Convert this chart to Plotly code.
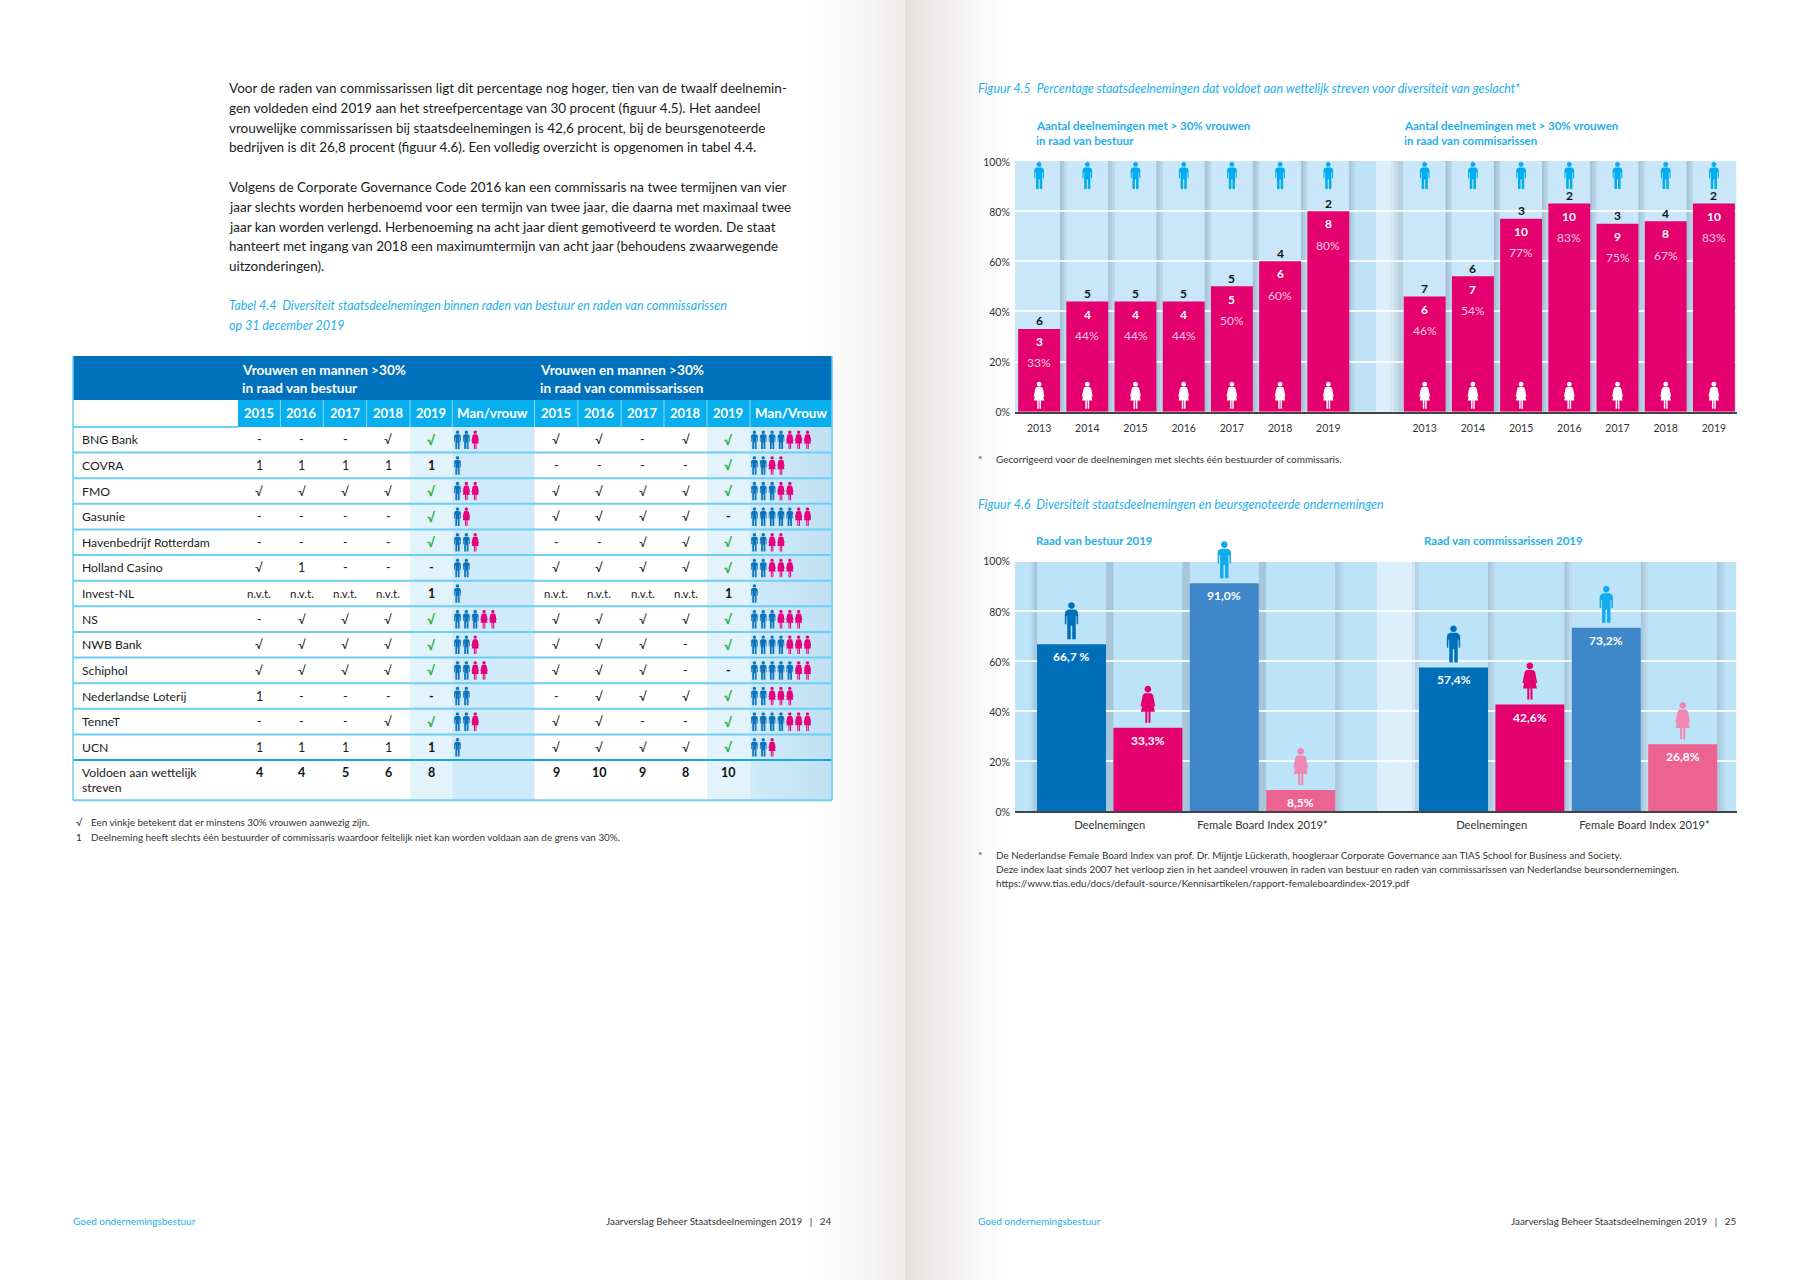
import math
import plotly.graph_objects as go

W, H = 1810, 1280
FONT = "Lato"

# ---------- data ----------
years45 = ["2013", "2014", "2015", "2016", "2017", "2018", "2019"]
pos45 = [0, 1, 2, 3, 4, 5, 6, 8, 9, 10, 11, 12, 13, 14]
tick45 = years45 + years45
bestuur_hoogte = [33, 44, 44, 44, 50, 60, 80]
commissie_hoogte = [46, 54, 77, 83, 75, 76, 83]
pct45 = ["33%", "44%", "44%", "44%", "50%", "60%", "80%", "46%", "54%", "77%", "83%", "75%", "67%", "83%"]
vrouwen45 = [3, 4, 4, 4, 5, 6, 8, 6, 7, 10, 10, 9, 8, 10]
mannen45 = [6, 5, 5, 5, 5, 4, 2, 7, 6, 3, 2, 3, 4, 2]

pos46 = [0, 1, 2, 3, 5, 6, 7, 8]
waarden46 = [66.7, 33.3, 91.0, 8.5, 57.4, 42.6, 73.2, 26.8]
labels46 = ["66,7 %", "33,3%", "91,0%", "8,5%", "57,4%", "42,6%", "73,2%", "26,8%"]
kleuren46 = ["#006fba", "#e5006f", "#3e87c9", "#ec6391"] * 2
icoon_kleuren46 = ["#006fba", "#e5006f", "#12aced", "#f086b4"] * 2
icoon_soort46 = ["m", "v", "m", "v"] * 2
tickpos46 = [0.5, 2.5, 5.5, 7.5]
ticktext46 = ["Deelnemingen", "Female Board Index 2019*", "Deelnemingen", "Female Board Index 2019*"]
yticks = [0, 20, 40, 60, 80, 100]
yticktext = ["0%", "20%", "40%", "60%", "80%", "100%"]

tabel_jaren = ["2015", "2016", "2017", "2018", "2019"]
tabel_namen = ["BNG Bank", "COVRA", "FMO", "Gasunie", "Havenbedrijf Rotterdam", "Holland Casino", "Invest-NL",
               "NS", "NWB Bank", "Schiphol", "Nederlandse Loterij", "TenneT", "UCN"]
N = "n.v.t."
tabel_bestuur = [
    ["-", "-", "-", "√", "√"], ["1", "1", "1", "1", "1"], ["√", "√", "√", "√", "√"], ["-", "-", "-", "-", "√"],
    ["-", "-", "-", "-", "√"], ["√", "1", "-", "-", "-"], [N, N, N, N, "1"], ["-", "√", "√", "√", "√"],
    ["√", "√", "√", "√", "√"], ["√", "√", "√", "√", "√"], ["1", "-", "-", "-", "-"], ["-", "-", "-", "√", "√"],
    ["1", "1", "1", "1", "1"]]
tabel_commissie = [
    ["√", "√", "-", "√", "√"], ["-", "-", "-", "-", "√"], ["√", "√", "√", "√", "√"], ["√", "√", "√", "√", "-"],
    ["-", "-", "√", "√", "√"], ["√", "√", "√", "√", "√"], [N, N, N, N, "1"], ["√", "√", "√", "√", "√"],
    ["√", "√", "√", "-", "√"], ["√", "√", "√", "-", "-"], ["-", "√", "√", "√", "√"], ["√", "√", "-", "-", "√"],
    ["√", "√", "√", "√", "√"]]
iconen_bestuur = [(2, 1), (1, 0), (1, 2), (1, 1), (2, 1), (2, 0), (1, 0), (3, 2), (2, 1), (2, 2), (2, 0), (2, 1), (1, 0)]
iconen_commissie = [(4, 3), (2, 2), (3, 2), (5, 2), (2, 2), (2, 3), (1, 0), (3, 3), (4, 3), (5, 2), (2, 3), (4, 3), (2, 1)]
totaal_bestuur = ["4", "4", "5", "6", "8"]
totaal_commissie = ["9", "10", "9", "8", "10"]

alinea_1 = ["Voor de raden van commissarissen ligt dit percentage nog hoger, tien van de twaalf deelnemin-",
            "gen voldeden eind 2019 aan het streefpercentage van 30 procent (figuur 4.5). Het aandeel",
            "vrouwelijke commissarissen bij staatsdeelnemingen is 42,6 procent, bij de beursgenoteerde",
            "bedrijven is dit 26,8 procent (figuur 4.6). Een volledig overzicht is opgenomen in tabel 4.4."]
alinea_2 = ["Volgens de Corporate Governance Code 2016 kan een commissaris na twee termijnen van vier",
            "jaar slechts worden herbenoemd voor een termijn van twee jaar, die daarna met maximaal twee",
            "jaar kan worden verlengd. Herbenoeming na acht jaar dient gemotiveerd te worden. De staat",
            "hanteert met ingang van 2018 een maximumtermijn van acht jaar (behoudens zwaarwegende",
            "uitzonderingen)."]
voetnoot_46 = ["De Nederlandse Female Board Index van prof. Dr. Mijntje Lückerath, hoogleraar Corporate Governance aan TIAS School for Business and Society.",
               "Deze index laat sinds 2007 het verloop zien in het aandeel vrouwen in raden van bestuur en raden van commissarissen van Nederlandse beursondernemingen.",
               "https://www.tias.edu/docs/default-source/Kennisartikelen/rapport-femaleboardindex-2019.pdf"]

# ---------- colours ----------
BLUE_T = "#1fb0ea"
DARK = "#0071bc"
CYAN = "#08afee"
LINE = "#6fcdf4"
TXT = "#1c1c1c"

shapes, ann = [], []


def fx(x):
    return x / W


def fy(y):
    return 1 - y / H


def T(x, y, text, size=12.5, color=TXT, bold=False, italic=False, anchor="left"):
    ann.append(dict(x=fx(x), y=fy(y), xref="paper", yref="paper", text=text, showarrow=False, xanchor=anchor,
                    yanchor="middle", borderpad=0, borderwidth=0,
                    font=dict(family=FONT, size=size, color=color, weight=700 if bold else 400,
                              style="italic" if italic else "normal")))


def R(x0, y0, x1, y1, color, layer="below"):
    shapes.append(dict(type="rect", xref="paper", yref="paper", x0=fx(x0), x1=fx(x1), y0=fy(y1), y1=fy(y0),
                       fillcolor=color, line=dict(width=0), layer=layer))


def L(x0, y0, x1, y1, color, w=1.5):
    shapes.append(dict(type="line", xref="paper", yref="paper", x0=fx(x0), x1=fx(x1), y0=fy(y0), y1=fy(y1),
                       line=dict(color=color, width=w), layer="below"))


def mix(a, b, t):
    return "#%02x%02x%02x" % tuple(round(a[i] + (b[i] - a[i]) * t) for i in range(3))


HEAD = [(0.09 * math.sin(k * math.pi / 8), 0.09 + 0.09 * math.cos(k * math.pi / 8)) for k in range(16)]
MAN = [(-0.09, 0.2), (0.09, 0.2), (0.16, 0.24), (0.18, 0.32), (0.18, 0.6), (0.14, 0.6), (0.135, 0.38), (0.115, 0.38),
       (0.115, 1), (0.02, 1), (0.02, 0.64), (-0.02, 0.64), (-0.02, 1), (-0.115, 1), (-0.115, 0.38), (-0.135, 0.38),
       (-0.14, 0.6), (-0.18, 0.6), (-0.18, 0.32), (-0.16, 0.24)]
VROUW = [(-0.09, 0.2), (0.09, 0.2), (0.14, 0.25), (0.2, 0.55), (0.16, 0.56), (0.12, 0.4), (0.19, 0.7), (0.07, 0.7),
         (0.07, 1), (0.015, 1), (0.015, 0.7), (-0.015, 0.7), (-0.015, 1), (-0.07, 1), (-0.07, 0.7), (-0.19, 0.7),
         (-0.12, 0.4), (-0.16, 0.56), (-0.2, 0.55), (-0.14, 0.25)]


def icon_path(kind, h, top):
    """Path in pixels relative to the anchor; `top` = pixels above the anchor of the head top."""
    def poly(pts):
        return "M" + " L".join(f"{px * h:.2f},{top - py * h:.2f}" for px, py in pts) + " Z"
    return poly(HEAD) + " " + poly(MAN if kind == "m" else VROUW)


def icon(kind, xanchor, yanchor, h, top, color, xref="paper", yref="paper"):
    shapes.append(dict(type="path", xref=xref, yref=yref, xsizemode="pixel", ysizemode="pixel",
                       xanchor=xanchor, yanchor=yanchor, path=icon_path(kind, h, top),
                       fillcolor=color, line=dict(width=0), layer="above"))


# ---------- page shading ----------
wit, rand_l, rand_r = (255, 255, 255), (238, 236, 235), (227, 224, 223)
for x in range(800, 905, 3):
    t = (x - 800) / 105
    R(x, 0, min(x + 4, 905), H, mix(wit, rand_l, t ** 1.3))
for x in range(1002, 902, -3):
    t = (x - 905) / 100
    R(max(x, 905), 0, x + 4, H, mix(rand_r, wit, max(t, 0) ** 0.8))

# ---------- body text left page ----------
for i, s in enumerate(alinea_1):
    T(228.5, 88.3 + i * 19.65, s, size=13.5)
for i, s in enumerate(alinea_2):
    T(228.5, 187.3 + i * 19.67, s, size=13.5)
T(228.5, 306, "Tabel 4.4  Diversiteit staatsdeelnemingen binnen raden van bestuur en raden van commissarissen", 12.45, BLUE_T, italic=True)
T(228.5, 325.7, "op 31 december 2019", 12.45, BLUE_T, italic=True)

# ---------- table ----------
TL, TR = 73, 832
col_edges = [238, 280.4, 323.3, 366.6, 410, 452.3, 534.5, 577.9, 621.2, 664, 707, 750, 832]
col_l = [259, 301.8, 345, 388.3, 431.2]
col_r = [556, 599.3, 642.6, 685.5, 728.4]
ROW0, RH = 427, 25.62
LAST = ROW0 + 13 * RH
BOT = 800.3

R(TL, 356, TR, 400, DARK)
R(238, 400, TR, 427, CYAN)
R(410, 427, 452.3, BOT, "#e3f3fc")
R(707, 427, 750, BOT, "#e3f3fc")
R(452.3, 427, 534.5, BOT, "#cfeafa")
for k in range(20):
    R(750 + k * 4.1, 427, 832, BOT, mix((208, 235, 250), (192, 225, 243), k / 19))
for e in col_edges[1:-1]:
    L(e, 400, e, 427, "#8ad8f7", 1)
for i in range(1, 13):
    L(TL, ROW0 + i * RH, TR, ROW0 + i * RH, LINE, 2)
L(TL, 427, 238, 427, LINE, 2)
L(TL, LAST, TR, LAST, "#1aa7e6", 2)
L(TL, BOT, TR, BOT, LINE, 2)
L(TL, 356, TL, BOT, LINE, 1.5)
L(TR, 356, TR, BOT, LINE, 1.5)

T(242, 370.3, "Vrouwen en mannen >30%", 13.6, "white", bold=True)
T(242, 387.7, "in raad van bestuur", 13.6, "white", bold=True)
T(539.6, 370.3, "Vrouwen en mannen >30%", 13.6, "white", bold=True)
T(539.6, 387.7, "in raad van commissarissen", 13.6, "white", bold=True)
for j, y in enumerate(tabel_jaren):
    T(col_l[j], 413.3, y, 13, "white", bold=True, anchor="center")
    T(col_r[j], 413.3, y, 13, "white", bold=True, anchor="center")
T(492.7, 413.3, "Man/vrouw", 13.3, "white", bold=True, anchor="center")
T(790.6, 413.3, "Man/Vrouw", 13.3, "white", bold=True, anchor="center")


def cel(x, y, v, hoofd):
    if v == "√" and hoofd:
        T(x, y, v, 13, "#2db34a", bold=True, anchor="center")
    elif hoofd:
        T(x, y, v, 12.5, "#111111", bold=True, anchor="center")
    elif v == N:
        T(x, y, v, 11.5, TXT, anchor="center")
    else:
        T(x, y, v, 12.5, TXT, anchor="center")


for i, naam in enumerate(tabel_namen):
    yc = ROW0 + (i + 0.5) * RH
    T(82.4, yc, naam, 12.2)
    for j in range(5):
        cel(col_l[j], yc, tabel_bestuur[i][j], j == 4)
        cel(col_r[j], yc, tabel_commissie[i][j], j == 4)
    for start, (m, v) in ((457.5, iconen_bestuur[i]), (754.4, iconen_commissie[i])):
        for k in range(m + v):
            icon("m" if k < m else "v", fx(start + k * 8.85), fy(yc), 18.5, 9.25,
                 "#0c72b9" if k < m else "#e5007d")

T(82.4, 772.3, "Voldoen aan wettelijk", 12.2)
T(82.4, 787.3, "streven", 12.2)
for j in range(5):
    T(col_l[j], 772.3, totaal_bestuur[j], 12.5, "#111111", bold=True, anchor="center")
    T(col_r[j], 772.3, totaal_commissie[j], 12.5, "#111111", bold=True, anchor="center")

T(76, 821.7, "√", 10, "#333333")
T(90.6, 821.7, "Een vinkje betekent dat er minstens 30% vrouwen aanwezig zijn.", 9.9, "#333333")
T(76, 836.7, "1", 10, "#333333")
T(90.6, 836.7, "Deelneming heeft slechts één bestuurder of commissaris waardoor feitelijk niet kan worden voldaan aan de grens van 30%.", 9.9, "#333333")

# ---------- footers ----------
T(73, 1220.5, "Goed ondernemingsbestuur", 10, BLUE_T)
T(832, 1220.5, "Jaarverslag Beheer Staatsdeelnemingen 2019   |   24", 9.9, "#333333", anchor="right")
T(978, 1220.5, "Goed ondernemingsbestuur", 10, BLUE_T)
T(1737, 1220.5, "Jaarverslag Beheer Staatsdeelnemingen 2019   |   25", 9.9, "#333333", anchor="right")

# ---------- figure 4.5 ----------
X0, X1 = 1015, 1736.5
Y45T, Y45B = 161, 411.7
P45 = 48.2
R45 = [-0.5, (X1 - X0) / P45 - 0.5]
BW45 = 0.87


def x45(px):
    return (px - X0) / P45 - 0.5


def strip(x0, x1, color, xr, yr, ymax=100):
    shapes.append(dict(type="rect", xref=xr, yref=yr, x0=x0, x1=x1, y0=0, y1=ymax, fillcolor=color,
                       line=dict(width=0), layer="below"))


strip(R45[0], R45[1], "#c9e7f9", "x", "y")
GUT = ["#a3c1d3", "#aecbdc", "#b9d6e7"]
for p in pos45:
    if p + 1 in pos45:
        a, b = p + BW45 / 2, p + 1 - BW45 / 2
        for k, c in enumerate(GUT):
            strip(a + (b - a) * k / 3, a + (b - a) * (k + 1) / 3, c, "x", "y")
for px0, px1, c in [(1349, 1351, "#a8c6da"), (1351, 1353, "#b0cfe2"), (1353, 1355, "#b8d9ec"), (1355, 1376, "#bfe2f6"),
                    (1376, 1390, "#dcf0fb"), (1390, 1394, "#d2e7f2"), (1394, 1398, "#c5dce9"), (1398, 1403, "#b8d0de")]:
    strip(x45(px0), x45(px1), c, "x", "y")

T(978.4, 88.3, "Figuur 4.5  Percentage staatsdeelnemingen dat voldoet aan wettelijk streven voor diversiteit van geslacht*", 12.45, BLUE_T, italic=True)
T(1035.5, 126, "Aantal deelnemingen met > 30% vrouwen", 11.5, BLUE_T, bold=True)
T(1035.5, 140.3, "in raad van bestuur", 11.5, BLUE_T, bold=True)
T(1404, 126, "Aantal deelnemingen met > 30% vrouwen", 11.5, BLUE_T, bold=True)
T(1404, 140.3, "in raad van commisarissen", 11.5, BLUE_T, bold=True)
T(978, 459.3, "*", 10, "#333333")
T(995.7, 459.3, "Gecorrigeerd voor de deelnemingen met slechts één bestuurder of commissaris.", 9.95, "#333333")

waarden45 = bestuur_hoogte + commissie_hoogte
for p, v, pc, nv, nm in zip(pos45, waarden45, pct45, vrouwen45, mannen45):
    base = dict(x=p, y=v, xref="x", yref="y", showarrow=False, borderpad=0, yanchor="middle", xanchor="center")
    ann.append(dict(base, text=str(nm), yshift=8, font=dict(family=FONT, size=12, color="#111111", weight=700)))
    ann.append(dict(base, text=str(nv), yshift=-12.7, font=dict(family=FONT, size=12, color="white", weight=700)))
    ann.append(dict(base, text=pc, yshift=-34, font=dict(family=FONT, size=12, color="#f9c9df")))
    icon("m", p, 100, 27, -1, "#00aeef", "x", "y")
    icon("v", p, 0, 27, 30, "white", "x", "y")

# ---------- figure 4.6 ----------
Y46T, Y46B = 560.7, 811.3
P46 = 76.4
Y46MAX = 110
Y46TOP = Y46B - (Y46B - Y46T) * Y46MAX / 100
X046 = 1071.5
R46 = [(X0 - X046) / P46, (X1 - X046) / P46]
BW46 = 0.903


def x46(px):
    return (px - X046) / P46


strip(R46[0], R46[1], "#bde3f8", "x2", "y2")
for p in [0, 1, 2]:
    strip(p + BW46 / 2, p + 1 - BW46 / 2, "#a7c6d9", "x2", "y2")
for p in [5, 6, 7]:
    a, b = p + BW46 / 2, p + 1 - BW46 / 2
    for k, c in enumerate(["#a8c6d9", "#b1cee0", "#bcdaec"]):
        strip(a + (b - a) * k / 3, a + (b - a) * (k + 1) / 3, c, "x2", "y2")
for px0, px1, c in [(1030, 1032, "#b7dcf1"), (1032, 1034, "#b0d3e8"), (1034, 1037.2, "#a8c9dd"),
                    (1335, 1338, "#a9c9dd"), (1338, 1341, "#b1d2e6"), (1341, 1344, "#b8dbef"),
                    (1377, 1412, "#dcf0fb"), (1412, 1415, "#cfe5f2"), (1415, 1419, "#b8d3e3"),
                    (1717, 1720, "#abcbde"), (1720, 1723, "#b2d3e7"), (1723, 1726, "#b9dcf0")]:
    strip(x46(px0), x46(px1), c, "x2", "y2")

T(978.4, 504, "Figuur 4.6  Diversiteit staatsdeelnemingen en beursgenoteerde ondernemingen", 12.5, BLUE_T, italic=True)
T(1036, 540.3, "Raad van bestuur 2019", 11.4, BLUE_T, bold=True)
T(1423.8, 540.3, "Raad van commissarissen 2019", 11.5, BLUE_T, bold=True)
T(978, 855.3, "*", 10, "#333333")
for i, s in enumerate(voetnoot_46):
    T(995.7, 855.3 + i * 13.7, s, 9.9, "#333333")

for p, v, lab, ks, kc in zip(pos46, waarden46, labels46, icoon_soort46, icoon_kleuren46):
    ann.append(dict(x=p, y=v, xref="x2", yref="y2", showarrow=False, borderpad=0, yanchor="middle", xanchor="center",
                    text=lab, yshift=-12.5, font=dict(family=FONT, size=12, color="white", weight=700)))
    icon(ks, p, v, 37, 42, kc, "x2", "y2")

# ---------- traces ----------
fig = go.Figure()
fig.add_trace(go.Bar(x=pos45, y=waarden45, width=BW45, marker=dict(color="#e5006f", line=dict(width=0)),
                     xaxis="x", yaxis="y", hoverinfo="skip", showlegend=False))
fig.add_trace(go.Bar(x=pos46, y=waarden46, width=BW46, marker=dict(color=kleuren46, line=dict(width=0)),
                     xaxis="x2", yaxis="y2", hoverinfo="skip", showlegend=False))

tickfont = dict(family=FONT, size=10.5, color="#333333")
xbase = dict(showline=True, linecolor="#444444", linewidth=1.5, showgrid=False, zeroline=False, tickmode="array",
             ticks="outside", ticklen=6, tickcolor="rgba(0,0,0,0)", tickfont=tickfont, fixedrange=True, automargin=False)
ybase = dict(showline=False, showgrid=True, gridcolor="rgba(255,255,255,0.85)", gridwidth=1.5, zeroline=False,
             tickmode="array", tickvals=yticks, ticktext=yticktext, ticks="outside", ticklen=2,
             tickcolor="rgba(0,0,0,0)", tickfont=tickfont, fixedrange=True, automargin=False, ticklabelshift=1)

fig.update_layout(
    width=W, height=H, margin=dict(l=0, r=0, t=0, b=0, pad=0, autoexpand=False), paper_bgcolor="white",
    plot_bgcolor="rgba(0,0,0,0)",
    showlegend=False, barmode="overlay", shapes=shapes, annotations=ann, font=dict(family=FONT),
    xaxis=dict(xbase, domain=[fx(X0), fx(X1)], range=R45, tickvals=pos45, ticktext=tick45, anchor="y"),
    yaxis=dict(ybase, domain=[fy(Y45B), fy(Y45T)], range=[0, 100], anchor="x"),
    xaxis2=dict(xbase, domain=[fx(X0), fx(X1)], range=R46, tickvals=tickpos46, ticktext=ticktext46, anchor="y2",
                ticklen=3, tickfont=dict(family=FONT, size=11.2, color="#333333")),
    yaxis2=dict(ybase, domain=[fy(Y46B), fy(Y46TOP)], range=[0, Y46MAX], anchor="x2"),
)

fig.write_html("out.html", config=dict(displayModeBar=False),
               post_script="document.body.style.margin='0';document.body.style.overflow='hidden';")
